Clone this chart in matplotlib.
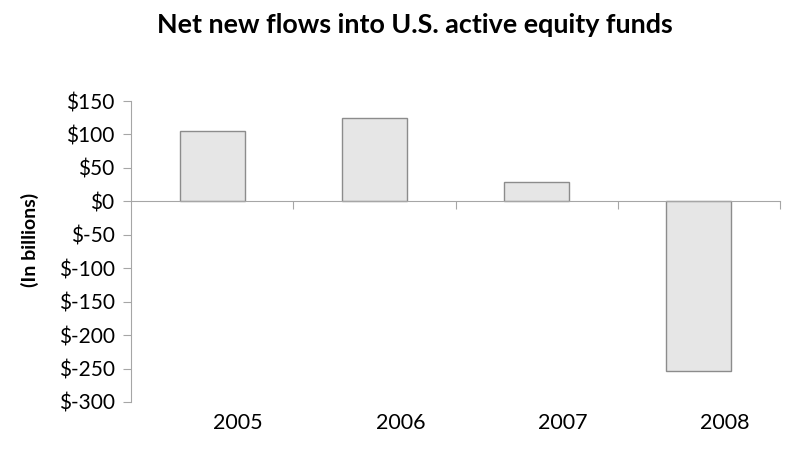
import matplotlib.pyplot as plt
import numpy as np

years = ['2005', '2006', '2007', '2008']
flows = [105, 124, 29, -254]  # billions of dollars
y_ticks = [150, 100, 50, 0, -50, -100, -150, -200, -250, -300]

plt.rcParams['font.family'] = ['Lato', 'DejaVu Sans']

fig = plt.figure(figsize=(8, 4.53), dpi=100)
ax = fig.add_axes([0.164, 0.1126, 0.811, 0.6644])

x = np.arange(len(years))
ax.bar(x, flows, width=0.4, color='#e6e6e6', edgecolor='#8c8c8c', linewidth=1, zorder=2)

ax.set_xlim(-0.5, len(years) - 0.5)
ax.set_ylim(-300, 150)
ax.set_yticks(y_ticks)
ax.set_yticklabels(['$' + str(v) for v in y_ticks], fontsize=15)

for s in ['top', 'right']:
    ax.spines[s].set_visible(False)
ax.spines['left'].set_color('#a6a6a6')
ax.spines['bottom'].set_color('#a6a6a6')
ax.spines['bottom'].set_position(('data', 0))
ax.spines['bottom'].set_zorder(3)

ax.tick_params(axis='y', length=6, color='#a6a6a6', pad=6)
ax.set_xticks(x + 0.5)
ax.tick_params(axis='x', length=6, color='#a6a6a6', labelbottom=False)

# category labels sit a little right of the bar centres, as in the original
sec = ax.secondary_xaxis('bottom')
sec.set_xticks(x + 0.16)
sec.set_xticklabels(years, fontsize=15.5)
sec.tick_params(length=0, pad=8)
sec.spines['bottom'].set_visible(False)

ax.set_ylabel('(In billions)', fontsize=14, fontweight='bold')
ax.yaxis.set_label_coords(-0.142, 0.538)

fig.suptitle('Net new flows into U.S. active equity funds', fontsize=19.4,
             fontweight='bold', x=0.518, y=0.972)

fig.savefig('out.png', dpi=100)
